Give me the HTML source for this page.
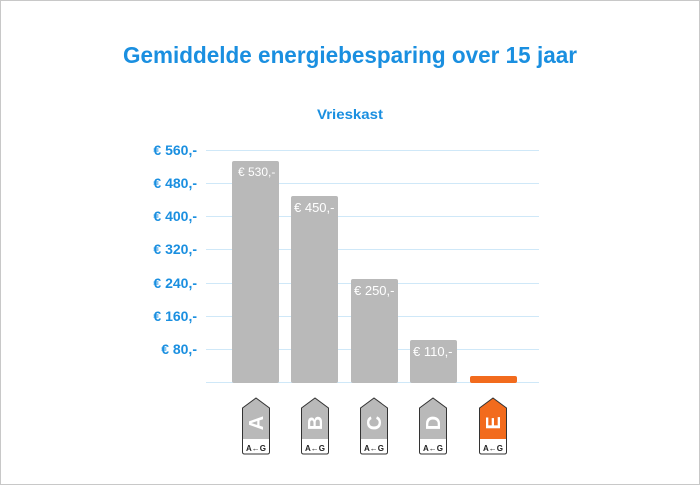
<!DOCTYPE html>
<html><head><meta charset="utf-8"><style>
html,body{margin:0;padding:0;background:#fff}
svg{display:block}
text{font-family:"Liberation Sans",sans-serif}
</style></head><body>
<svg width="700" height="485" viewBox="0 0 700 485" xmlns="http://www.w3.org/2000/svg">
<rect x="0.5" y="0.5" width="699" height="484" fill="#fff" stroke="#c8c8c8"/>
<text x="350" y="63" text-anchor="middle" font-size="23" font-weight="bold" fill="#1a8fe0" textLength="454" lengthAdjust="spacingAndGlyphs">Gemiddelde energiebesparing over 15 jaar</text>
<text x="350" y="119" text-anchor="middle" font-size="14" font-weight="bold" fill="#1a8fe0" textLength="66" lengthAdjust="spacingAndGlyphs">Vrieskast</text>
<g stroke="#cfe8f8" stroke-width="1">
<line x1="206" y1="150.5" x2="539" y2="150.5"/>
<line x1="206" y1="183.5" x2="539" y2="183.5"/>
<line x1="206" y1="216.5" x2="539" y2="216.5"/>
<line x1="206" y1="249.5" x2="539" y2="249.5"/>
<line x1="206" y1="283.5" x2="539" y2="283.5"/>
<line x1="206" y1="316.5" x2="539" y2="316.5"/>
<line x1="206" y1="349.5" x2="539" y2="349.5"/>
<line x1="206" y1="382.5" x2="539" y2="382.5"/>
</g>
<g font-size="14" font-weight="bold" fill="#1a8fe0" text-anchor="end">
<text x="197" y="155">€ 560,-</text>
<text x="197" y="188">€ 480,-</text>
<text x="197" y="221">€ 400,-</text>
<text x="197" y="254">€ 320,-</text>
<text x="197" y="288">€ 240,-</text>
<text x="197" y="321">€ 160,-</text>
<text x="197" y="354">€ 80,-</text>
</g>
<g fill="#b9b9b9">
<rect x="232" y="161" width="47" height="222" rx="2"/>
<rect x="291" y="196" width="47" height="187" rx="2"/>
<rect x="351" y="279" width="47" height="104" rx="2"/>
<rect x="410" y="340" width="47" height="43" rx="2"/>
</g>
<rect x="470" y="376" width="47" height="7" rx="2" fill="#f26b1d"/>
<g fill="#fff" font-size="12">
<text x="238" y="176">€ 530,-</text>
<text x="294" y="212" font-size="13">€ 450,-</text>
<text x="354" y="295" font-size="13">€ 250,-</text>
<text x="413" y="356" font-size="13">€ 110,-</text>
</g>
<g font-weight="bold">
<g transform="translate(256,399)">
<path d="M-13.5,9 L0,-1 L13.5,9 L13.5,40 L-13.5,40 Z" fill="#b9b9b9"/>
<text transform="rotate(-90)" x="-24" y="7" text-anchor="middle" font-size="20" fill="#fff">A</text>
<text x="0" y="52" text-anchor="middle" font-size="8" fill="#222">A←G</text>
</g>
<g transform="translate(315,399)">
<path d="M-13.5,9 L0,-1 L13.5,9 L13.5,40 L-13.5,40 Z" fill="#b9b9b9"/>
<text transform="rotate(-90)" x="-24" y="7" text-anchor="middle" font-size="20" fill="#fff">B</text>
<text x="0" y="52" text-anchor="middle" font-size="8" fill="#222">A←G</text>
</g>
<g transform="translate(374,399)">
<path d="M-13.5,9 L0,-1 L13.5,9 L13.5,40 L-13.5,40 Z" fill="#b9b9b9"/>
<text transform="rotate(-90)" x="-24" y="7" text-anchor="middle" font-size="20" fill="#fff">C</text>
<text x="0" y="52" text-anchor="middle" font-size="8" fill="#222">A←G</text>
</g>
<g transform="translate(433,399)">
<path d="M-13.5,9 L0,-1 L13.5,9 L13.5,40 L-13.5,40 Z" fill="#b9b9b9"/>
<text transform="rotate(-90)" x="-24" y="7" text-anchor="middle" font-size="20" fill="#fff">D</text>
<text x="0" y="52" text-anchor="middle" font-size="8" fill="#222">A←G</text>
</g>
<g transform="translate(493,399)">
<path d="M-13.5,9 L0,-1 L13.5,9 L13.5,40 L-13.5,40 Z" fill="#f26b1d"/>
<text transform="rotate(-90)" x="-24" y="7" text-anchor="middle" font-size="20" fill="#fff">E</text>
<text x="0" y="52" text-anchor="middle" font-size="8" fill="#222">A←G</text>
</g>
</g>
<g fill="none" stroke="#333" stroke-width="1">
<path transform="translate(256,399)" d="M-13.5,9 L0,-1 L13.5,9 L13.5,53 Q13.5,55 11.5,55 L-11.5,55 Q-13.5,55 -13.5,53 Z"/>
<path transform="translate(315,399)" d="M-13.5,9 L0,-1 L13.5,9 L13.5,53 Q13.5,55 11.5,55 L-11.5,55 Q-13.5,55 -13.5,53 Z"/>
<path transform="translate(374,399)" d="M-13.5,9 L0,-1 L13.5,9 L13.5,53 Q13.5,55 11.5,55 L-11.5,55 Q-13.5,55 -13.5,53 Z"/>
<path transform="translate(433,399)" d="M-13.5,9 L0,-1 L13.5,9 L13.5,53 Q13.5,55 11.5,55 L-11.5,55 Q-13.5,55 -13.5,53 Z"/>
<path transform="translate(493,399)" d="M-13.5,9 L0,-1 L13.5,9 L13.5,53 Q13.5,55 11.5,55 L-11.5,55 Q-13.5,55 -13.5,53 Z"/>
</g>
</svg>
</body></html>
